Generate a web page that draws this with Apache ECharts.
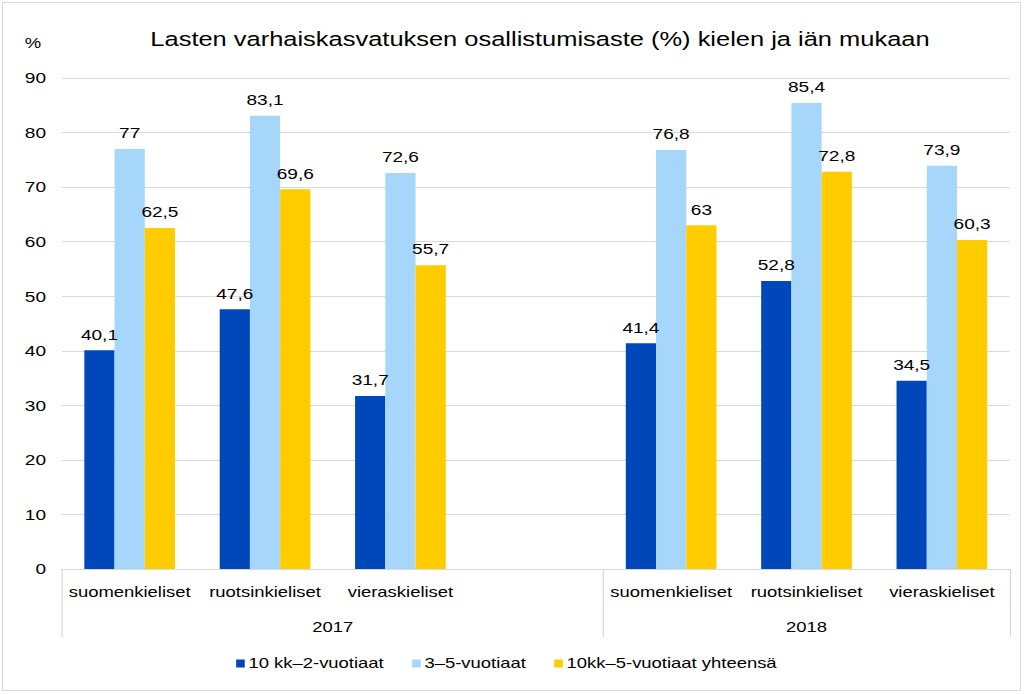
<!DOCTYPE html>
<html>
<head>
<meta charset="utf-8">
<script src="https://cdn.jsdelivr.net/npm/echarts@6/dist/echarts.min.js"></script>
<style>
html,body{margin:0;padding:0;background:#fff;overflow:hidden;}
#wrap{position:absolute;left:2px;top:2px;width:1019px;height:689px;border:1px solid #d9d9d9;box-sizing:border-box;}
/* the reference text is rendered horizontally stretched; reproduce by scaling the chart along x */
#chart{position:absolute;left:0;top:0;width:833px;height:694px;transform:scaleX(1.23);transform-origin:0 0;}
</style>
</head>
<body>
<div id="wrap"></div>
<div id="chart"></div>
<script>
var titleText = 'Lasten varhaiskasvatuksen osallistumisaste (%) kielen ja iän mukaan';
var languages = ['suomenkieliset', 'ruotsinkieliset', 'vieraskieliset'];
var years = ['2017', '2018'];
var seriesNames = ['10 kk\u20132-vuotiaat', '3\u20135-vuotiaat', '10kk\u20135-vuotiaat yhteensä'];
// values per series: 2017 (suomi, ruotsi, vieras), 2018 (suomi, ruotsi, vieras)
var young = [40.1, 47.6, 31.7, 41.4, 52.8, 34.5];
var older = [77, 83.1, 72.6, 76.8, 85.4, 73.9];
var total = [62.5, 69.6, 55.7, 63, 72.8, 60.3];
var colors = ['#0047BA', '#A6D6FA', '#FFCC00'];

// build category slots: year 2017 languages, a blank gap slot, year 2018 languages
var categories = [];
var spans = [];
years.forEach(function (y, yi) {
  var gap = yi < years.length - 1 ? 1 : 0;
  spans.push(languages.length + gap);
  languages.forEach(function (l) { categories.push(l); });
  if (gap) categories.push('');
});
function expand(arr) {
  var out = [], k = 0;
  years.forEach(function (y, yi) {
    languages.forEach(function () { out.push(arr[k++]); });
    if (yi < years.length - 1) out.push(null);
  });
  return out;
}
var boundaries = [0], centers = [], acc = 0;
spans.forEach(function (s) { centers.push(acc + s / 2); acc += s; boundaries.push(acc); });

var chart = echarts.init(document.getElementById('chart'), null, {renderer: 'svg'});
var fontFam = '"Liberation Sans", Arial, sans-serif';
var seriesData = [young, older, total];
chart.setOption({
  animation: false,
  title: {
    text: titleText,
    left: 434, top: 23, textAlign: 'center',
    textStyle: {fontFamily: fontFam, fontSize: 20.7, fontWeight: 'normal', color: '#000'}
  },
  legend: {
    bottom: 18, left: 187,
    icon: 'rect', itemWidth: 7, itemHeight: 8, itemGap: 23,
    textStyle: {fontFamily: fontFam, fontSize: 15, color: '#000', padding: [0, 0, 0, -2]},
    data: seriesNames
  },
  grid: {left: 50.4, right: 12.2, top: 78, bottom: 125, containLabel: false},
  xAxis: [{
    type: 'category', data: categories,
    axisLine: {lineStyle: {color: '#D9D9D9'}},
    axisTick: {show: false},
    axisLabel: {interval: 0, margin: 16, fontFamily: fontFam, fontSize: 15, color: '#000'}
  }, {
    type: 'value', min: 0, max: categories.length, position: 'bottom',
    axisLine: {show: false},
    splitLine: {show: false},
    axisTick: {show: true, length: 68, lineStyle: {color: '#D9D9D9'}, customValues: boundaries},
    axisLabel: {
      margin: 51, fontFamily: fontFam, fontSize: 15, color: '#000',
      customValues: centers,
      formatter: function (v) { var i = centers.indexOf(v); return i >= 0 ? years[i] : ''; }
    }
  }],
  yAxis: {
    type: 'value', min: 0, max: 90, interval: 10,
    name: '%', nameLocation: 'end', nameGap: 27,
    nameTextStyle: {fontFamily: fontFam, fontSize: 15, color: '#000', align: 'right', padding: [0, 17, 0, 0]},
    axisLine: {show: false}, axisTick: {show: false},
    splitLine: {lineStyle: {color: '#D9D9D9'}},
    axisLabel: {margin: 13, fontFamily: fontFam, fontSize: 15.5, color: '#000'}
  },
  series: seriesData.map(function (d, i) {
    return {
      name: seriesNames[i], type: 'bar', xAxisIndex: 0,
      data: expand(d),
      barGap: '0%', barCategoryGap: '33%',
      itemStyle: {color: colors[i]},
      label: {
        show: true, position: 'top', distance: 8,
        fontFamily: fontFam, fontSize: 15.5, color: '#000',
        formatter: function (p) { return p.value == null ? '' : String(p.value).replace('.', ','); }
      }
    };
  })
});
</script>
</body>
</html>
